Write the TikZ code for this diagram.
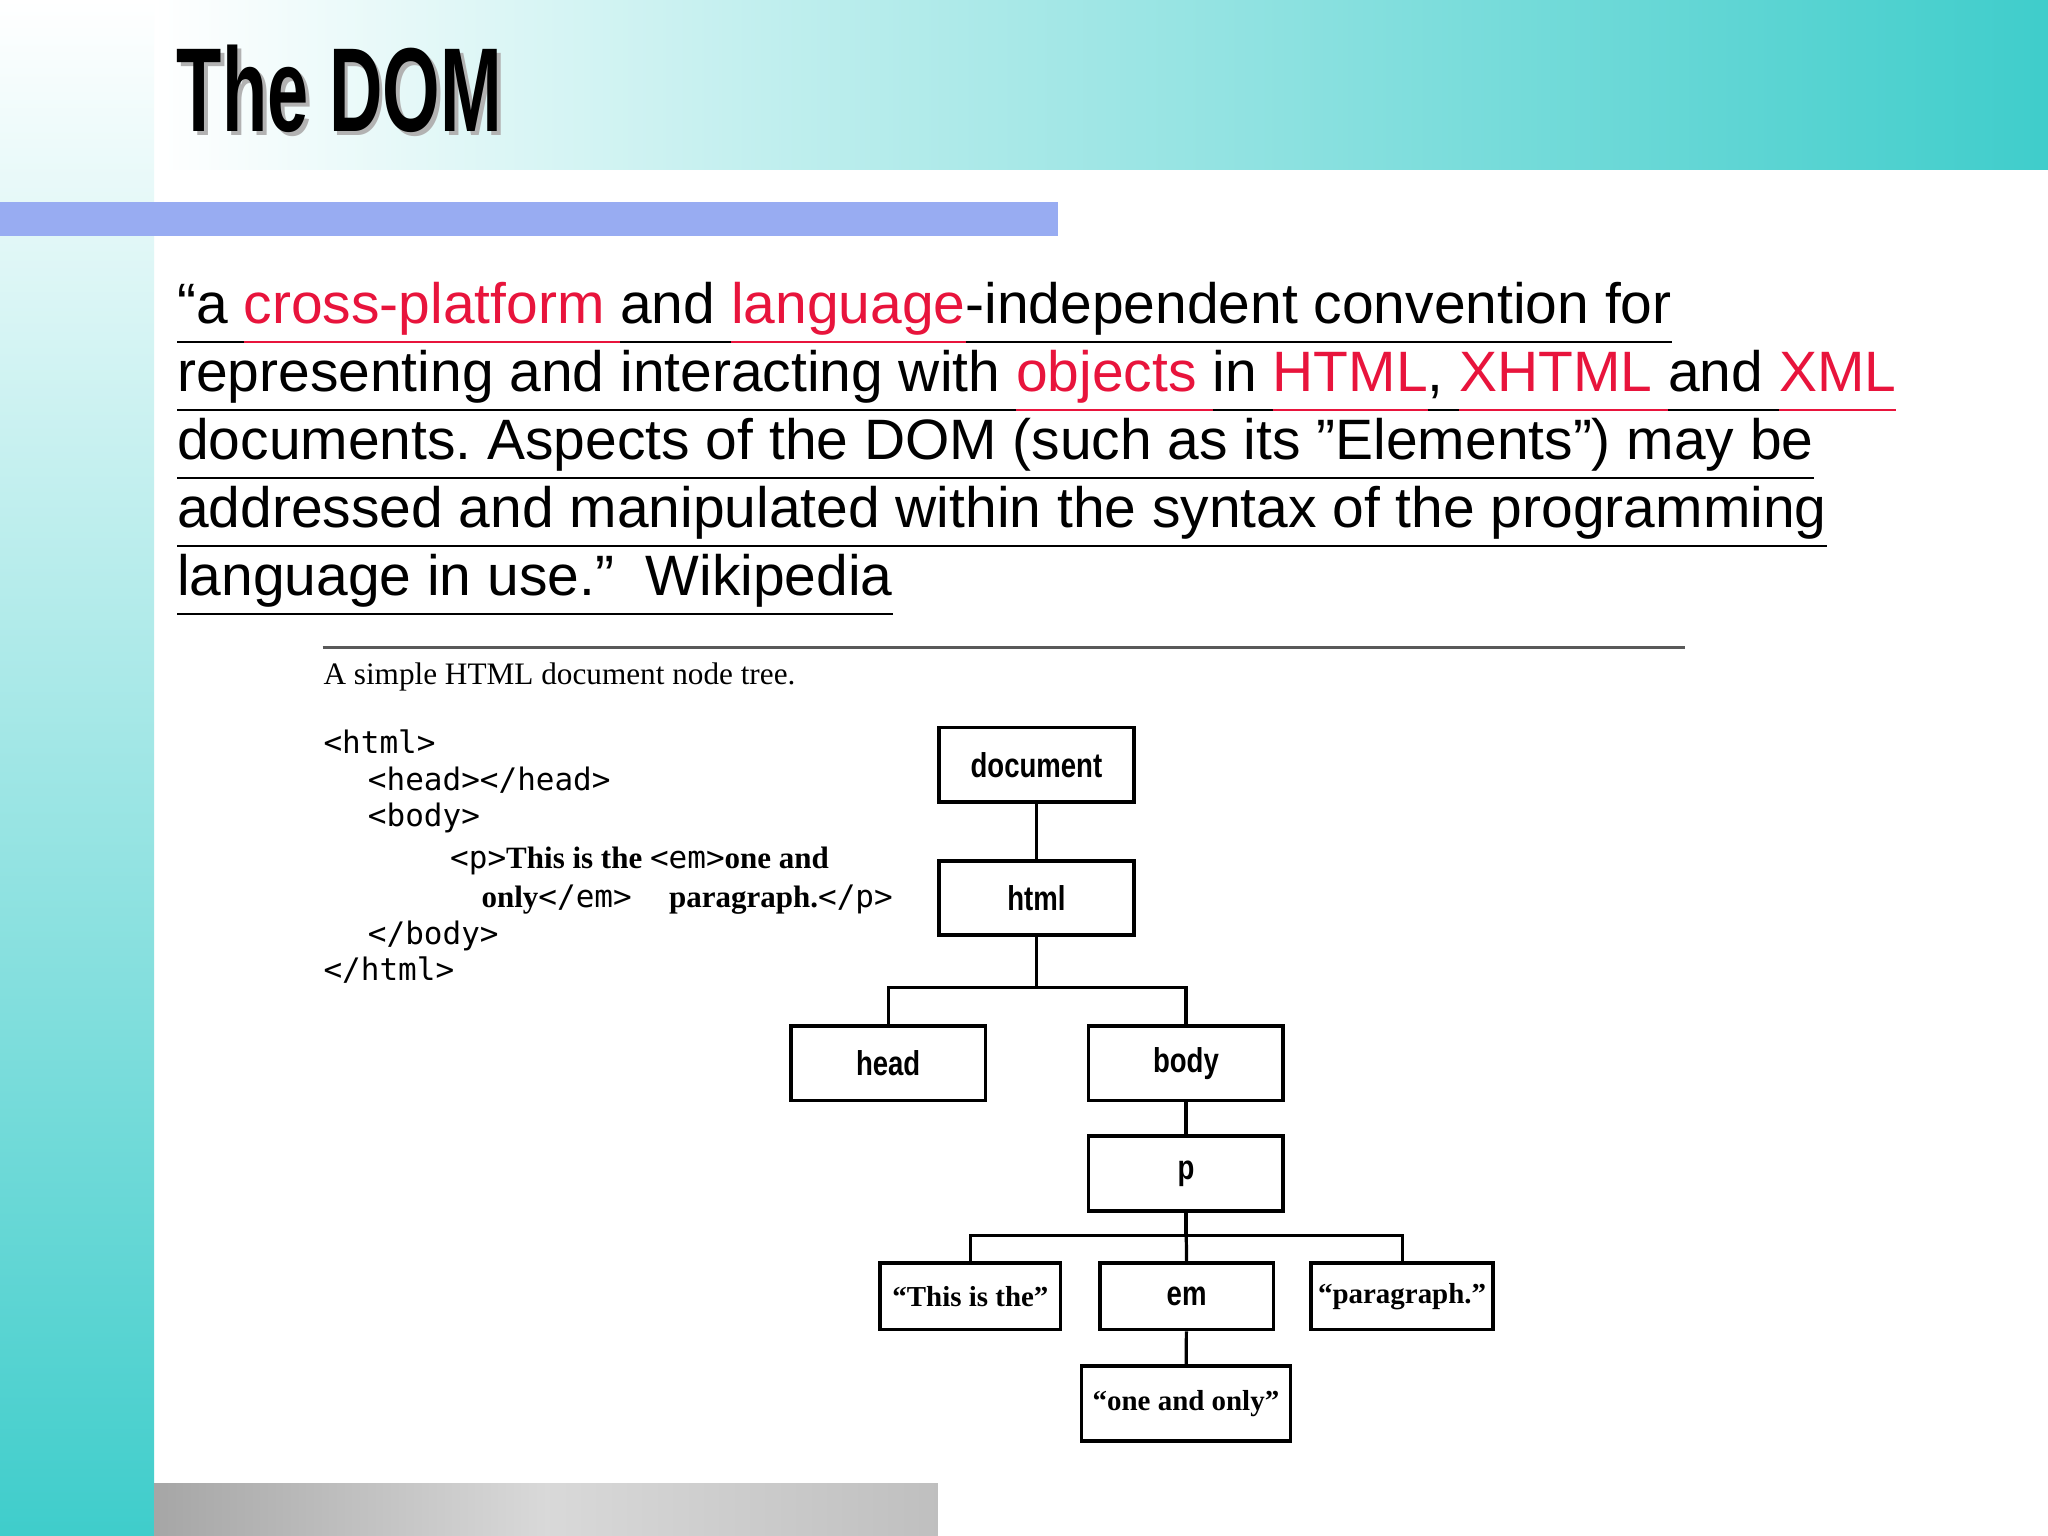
\documentclass[tikz,border=0pt]{standalone}
\usepackage{fontspec}
\setmainfont{Liberation Sans}
\newfontfamily\serif{Liberation Serif}
\newfontfamily\mono{DejaVu Sans Mono}
\usetikzlibrary{calc}
\definecolor{teal1}{HTML}{3FCDCB}
\definecolor{lred}{HTML}{E8143C}
\definecolor{bbar}{HTML}{98ACF2}
\newcommand{\ulx}[1]{\underline{\vphantom{(}#1}}
\newcommand{\rlx}[1]{\textcolor{lred}{\underline{\vphantom{(}#1}}}
\tikzset{
  tbox/.style={draw,line width=0.8pt,minimum width=1.49cm,minimum height=0.57cm,inner sep=0pt,font=\bfseries\fontsize{7.5}{9}\selectfont},
  qbox/.style={draw,line width=0.8pt,minimum height=0.51cm,inner sep=0pt,font=\serif\bfseries\fontsize{6.3}{8}\selectfont},
  line/.style={draw,line width=0.7pt},
  para/.style={anchor=base west,inner sep=0pt,font=\fontsize{12.4}{14}\selectfont},
  code/.style={anchor=base west,inner sep=0pt,font=\mono\fontsize{6.75}{8}\selectfont}
}
\begin{document}
\begin{tikzpicture}[x=0.01cm,y=-0.01cm]
\useasboundingbox (0,0) rectangle (1568,1176);
\fill[white] (0,0) rectangle (1568,1176);
\shade[left color=white,right color=teal1] (118,0) rectangle (1568,130);
\shade[top color=white,bottom color=teal1] (0,0) rectangle (118,1176);
\fill[bbar] (0,155) rectangle (810,181);
\shade[left color=gray!70,right color=gray!50,middle color=gray!30] (118,1136) rectangle (718,1176);
\node[anchor=base west,inner sep=0pt,font=\bfseries\fontsize{26}{28}\selectfont,gray!60,xscale=0.62] at (138,104) {The DOM};
\node[anchor=base west,inner sep=0pt,font=\bfseries\fontsize{26}{28}\selectfont,xscale=0.62] (title) at (135,101) {The DOM};
\node[para] (l1) at (135,248) {\ulx{“a }\rlx{cross-platform }\ulx{and }\rlx{language}\ulx{-independent convention for}};
\node[para] (l2) at (135,300) {\ulx{representing and interacting with }\rlx{objects }\ulx{in }\rlx{HTML}\ulx{, }\rlx{XHTML }\ulx{and }\rlx{XML}};
\node[para] (l3) at (135,352) {\ulx{documents.\ Aspects of the DOM (such as its \symbol{34}Elements\symbol{34}) may be}};
\node[para] (l4) at (135,404) {\ulx{addressed and manipulated within the syntax of the programming}};
\node[para] (l5) at (135,456) {\ulx{language in use.”\ \ Wikipedia}};
\draw[gray!70!black,line width=0.6pt] (247,496) -- (1290,496);
\node[anchor=base west,inner sep=0pt,font=\serif\fontsize{6.8}{8}\selectfont] (cap) at (247,524) {A simple HTML document node tree.};
\node[code] (c1) at (247,577) {<html>};
\node[code] (c2) at (281,605) {<head></head>};
\node[code] (c3) at (281,633) {<body>};
\node[code] (c4) at (344,665) {<p>{\serif\bfseries This is the }<em>{\serif\bfseries one and}};
\node[code] (c5) at (368,695) {{\serif\bfseries only}</em>\ \ {\serif\bfseries paragraph.}</p>};
\node[code] (c6) at (281,723) {</body>};
\node[code] (c7) at (247,751) {</html>};
\node[tbox] (doc) at (793.5,585.5) {\scalebox{0.8}[1]{document}};
\node[tbox] (html) at (793.5,687.5) {\scalebox{0.8}[1]{html}};
\node[tbox] (head) at (680,814) {\scalebox{0.8}[1]{head}};
\node[tbox] (body) at (908,814) {\scalebox{0.8}[1]{body}};
\node[tbox] (p) at (908,898.5) {\scalebox{0.8}[1]{p}};
\node[qbox,minimum width=1.38cm] (t1) at (743,992.5) {“This is the”};
\node[qbox,minimum width=1.33cm,font=\bfseries\fontsize{7.5}{9}\selectfont] (em) at (908.5,992.5) {\scalebox{0.8}[1]{em}};
\node[qbox,minimum width=1.39cm] (t3) at (1073.5,992.5) {“paragraph.”};
\node[qbox,minimum width=1.6cm,minimum height=0.57cm] (t4) at (908,1074.5) {“one and only”};
\path[line] (doc) -- (html);
\path[line] (html.south) -- (html.south |- 0,756) -| (head.north);
\path[line] (html.south |- 0,756) -| (body.north);
\path[line] (body) -- (p);
\path[line] (p.south) -- (p.south |- 0,946) -| (t1.north);
\path[line] (p.south |- 0,946) -| (t3.north);
\path[line] (p.south) -- (em.north);
\path[line] (em) -- (t4);
\end{tikzpicture}
\end{document}
